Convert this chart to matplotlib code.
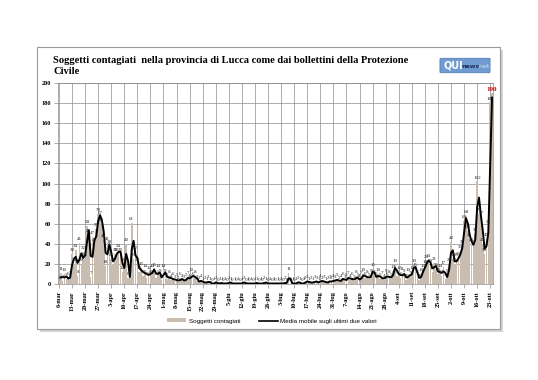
import matplotlib.pyplot as plt
import numpy as np
import pandas as pd
from matplotlib.patches import Rectangle, FancyBboxPatch, Patch
from matplotlib.lines import Line2D

# contagiati giornalieri, dal 6 marzo
marzo = [2, 11, 3, 10, 5, 6, 7, 30, 20, 34, 8, 41, 20, 32, 25, 58, 49, 7, 47, 40,
         55, 70, 67, 60, 44, 18]
aprile = [41, 38, 25, 20, 30, 30, 34, 30, 12, 20, 40, 6, 8, 61, 25, 32, 20, 12, 16, 8,
          14, 6, 12, 8, 14, 15, 6, 14, 9, 4]
maggio = [14, 9, 5, 8, 4, 6, 3, 5, 2, 6, 4, 3, 5, 7, 4, 10, 6, 8, 3, 2,
          4, 1, 2, 1, 3, 1, 0, 1, 2, 0, 1]
giugno = [1, 0, 1, 0, 2, 1, 0, 1, 0, 1, 0, 1, 2, 0, 1, 0, 1, 0, 1, 1,
          0, 1, 0, 2, 1, 0, 1, 0, 1, 0]
luglio = [1, 0, 1, 0, 2, 0, 11, 0, 1, 0, 1, 2, 1, 0, 1, 2, 3, 1, 2, 1,
          3, 2, 1, 4, 2, 3, 1, 2, 3, 2, 4]
agosto = [3, 5, 2, 4, 6, 3, 5, 7, 4, 6, 3, 8, 5, 4, 7, 10, 6, 8, 5, 9,
          15, 8, 6, 10, 5, 7, 4, 9, 6, 8, 5]
settembre = [13, 19, 8, 12, 6, 11, 9, 4, 10, 7, 12, 19, 15, 8, 4, 10, 14, 18, 23, 24,
             19, 12, 21, 15, 10, 14, 8, 17, 5, 9]
ottobre = [20, 42, 25, 20, 25, 26, 33, 38, 63, 68, 53, 45, 40, 38, 50, 102, 70, 67, 40, 30,
           45, 58, 181, 190]

mesi = ['gen', 'feb', 'mar', 'apr', 'mag', 'giu', 'lug', 'ago', 'set', 'ott', 'nov', 'dic']

contagiati = marzo + aprile + maggio + giugno + luglio + agosto + settembre + ottobre
giorni = pd.date_range('2020-03-06', periods=len(contagiati), freq='D')
media = pd.Series(contagiati).rolling(2).mean()

W, H = 538, 380
fig = plt.figure(figsize=(W / 100, H / 100), dpi=100)

# cornice con ombra
fig.patches.append(Rectangle((40 / W, 1 - 332 / H), 463 / W, 282 / H, transform=fig.transFigure,
                             facecolor='#d4d4d4', edgecolor='none', zorder=0))
fig.patches.append(Rectangle((37 / W, 1 - 329 / H), 463 / W, 282 / H, transform=fig.transFigure,
                             facecolor='white', edgecolor='#9a9a9a', lw=0.8, zorder=0.5))

ax = fig.add_axes([58 / W, 1 - 284 / H, 435 / W, 201 / H])
ax.set_zorder(3)
x = np.arange(len(contagiati))
ax.bar(x, contagiati, width=0.85, color='#c8bdb0', zorder=2)
ax.plot(x, media, color='black', lw=1.4, zorder=3)

for xi, v in zip(x[:-1], contagiati[:-1]):
    ax.text(xi, v + 1.5, str(v), fontsize=3.6, ha='center', va='bottom',
            family='Liberation Serif', color='#222222', zorder=4)
ax.text(x[-1], contagiati[-1] + 1.5, str(contagiati[-1]), fontsize=5, ha='center', va='bottom',
        family='Liberation Serif', fontweight='bold', color='#c00000', zorder=5, clip_on=False)

ax.set_xlim(-0.5, len(contagiati) - 0.5)
ax.set_ylim(0, 200)
ax.set_yticks(range(0, 201, 20))
ax.set_xticks(x[::7])
ax.set_xticklabels([f"{d.day}-{mesi[d.month - 1]}" for d in giorni[::7]], rotation=90)
for lab in ax.get_xticklabels() + ax.get_yticklabels():
    lab.set_family('Liberation Serif')
    lab.set_fontweight('bold')
    lab.set_fontsize(4.5)
ax.tick_params(length=3, width=0.5, color='#8c8c8c', pad=2)
ax.grid(color='#8c8c8c', lw=0.5, zorder=0)
ax.set_axisbelow(True)
for s in ax.spines.values():
    s.set_color('#8c8c8c')
    s.set_linewidth(0.5)

fig.text(53 / W, 1 - 56 / H,
         "Soggetti contagiati  nella provincia di Lucca come dai bollettini della Protezione\nCivile",
         fontsize=7.6, fontweight='bold', family='Liberation Serif', va='top', ha='left',
         multialignment='left', linespacing=1.3)

# logo
fig.patches.append(FancyBboxPatch((441 / W, 1 - 72 / H), 48 / W, 13 / H, transform=fig.transFigure,
                                  boxstyle='round,pad=0.002', facecolor='#6f9bd0', edgecolor='#4a78b0',
                                  lw=0.5, zorder=2))
fig.text(443 / W, 1 - 65.5 / H, "QUI", color='white', fontsize=7, fontweight='bold',
         family='DejaVu Sans', va='center', zorder=3)
fig.text(461 / W, 1 - 66 / H, "news", color='#1b2f5a', fontsize=4.5, fontweight='bold',
         family='DejaVu Sans', va='center', zorder=3)
fig.text(477 / W, 1 - 66 / H, ".net", color='#d5e2f2', fontsize=4.5,
         family='DejaVu Sans', va='center', zorder=3)

handles = [Patch(facecolor='#c8bdb0', edgecolor='none'),
           Line2D([0], [0], color='black', lw=1.2)]
fig.legend(handles, ['Soggetti contagiati', 'Media mobile sugli ultimi due valori'],
           loc='center', bbox_to_anchor=(272 / W, 1 - 321 / H), ncol=2, frameon=False,
           prop={'family': 'Liberation Sans', 'size': 4.5}, handlelength=3, handleheight=0.6,
           columnspacing=3, handletextpad=0.4)

fig.savefig('out.png', dpi=100)
